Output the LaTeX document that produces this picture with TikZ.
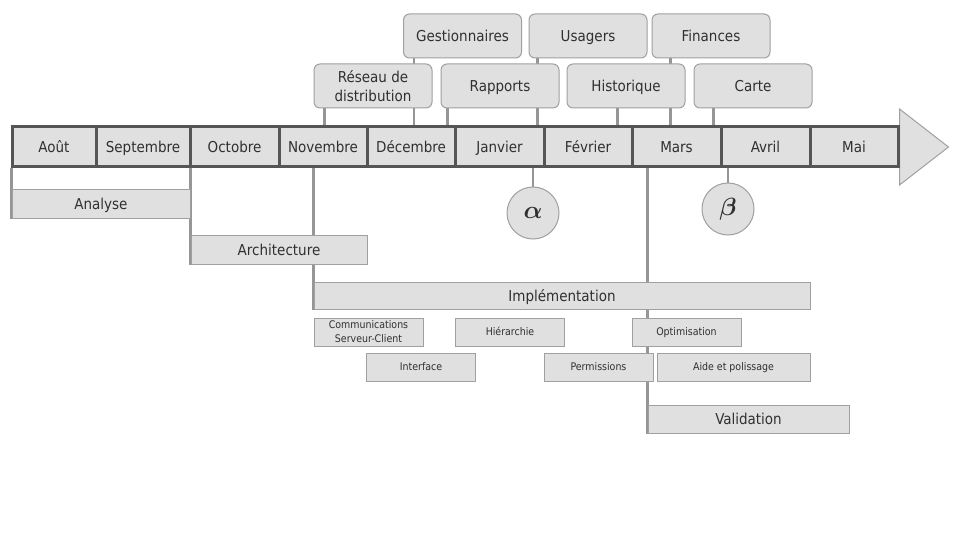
\documentclass[tikz,border=0pt]{standalone}
\usepackage{amsmath}
\usepackage{fontspec}
\setmainfont{DejaVu Sans Condensed}
\usetikzlibrary{backgrounds}

\definecolor{cellfill}{HTML}{E0E0E0}
\definecolor{edge}{HTML}{A0A0A0}
\definecolor{barline}{HTML}{555555}
\definecolor{ink}{HTML}{303030}
\definecolor{linkgray}{HTML}{969696}

\begin{document}
\begin{tikzpicture}
  [
    x = 1pt, y = -1pt,
    month/.style = {draw = barline, line width = 3pt, fill = cellfill,
        minimum height = 40pt, inner sep = 0pt, text = ink,
        text height = 11pt, text depth = 0pt,
        font = \fontsize{15}{17}\selectfont},
    feature/.style = {draw = edge, line width = 1pt, fill = cellfill,
        rounded corners = 6pt, minimum width = 118pt, minimum height = 44pt,
        inner sep = 0pt, text = ink, align = center,
        text height = 11pt, text depth = 0pt,
        font = \fontsize{15}{19}\selectfont},
    phase/.style = {draw = edge, line width = 1pt, fill = cellfill,
        inner sep = 0pt, text = ink, text height = 11pt, text depth = 0pt,
        font = \fontsize{15}{17}\selectfont},
    task/.style = {draw = edge, line width = 0.8pt, fill = cellfill,
        minimum width = 109pt, minimum height = 28pt, inner sep = 0pt,
        text = ink, align = center, text height = 7.7pt, text depth = 0pt,
        font = \fontsize{10.5}{14}\selectfont},
    milestone/.style = {circle, draw = edge, line width = 1pt, fill = cellfill,
        minimum size = 52pt, inner sep = 0pt, text = ink,
        font = \fontsize{24}{28}\selectfont},
    link/.style = {draw = linkgray, line width = 2.5pt},
  ]

  \useasboundingbox (0,0) rectangle (960,540);

  \foreach \l/\r/\name/\txt in {12/96/aout/Août, 96/190/sep/Septembre,
      190/279/oct/Octobre, 279/367/nov/Novembre, 367/455/dec/Décembre,
      455/544/jan/Janvier, 544/632/fev/Février, 632/721/mar/Mars,
      721/810/avr/Avril, 810/898/mai/Mai}{
      \node[month, minimum width = {(\r-\l)*1pt}] (\name) at ({(\l+\r)/2},147) {\txt};
    }

  \node[feature] (gest)   at (462.5,36) {Gestionnaires};
  \node[feature] (usag)   at (588,36)   {Usagers};
  \node[feature] (fin)    at (711,36)   {Finances};
  \node[feature, text height = {}, text depth = {}] (reseau) at (373,86) {Réseau de\\distribution};
  \node[feature] (rapp)   at (500,86)   {Rapports};
  \node[feature] (hist)   at (626,86)   {Historique};
  \node[feature] (carte)  at (753,86)   {Carte};

  \node[milestone] (alpha) at (533,213) {$\boldsymbol{\alpha}$};
  \node[milestone] (beta)  at (728,209) {$\boldsymbol{\beta}$};

  \node[phase, minimum width = 178pt, minimum height = 29pt] (analyse) at (101,203.5) {Analyse};
  \node[phase, minimum width = 176pt, minimum height = 29pt] (archi)   at (279,249.5) {Architecture};
  \node[phase, minimum width = 496pt, minimum height = 27pt] (impl)    at (562,295.5) {Implémentation};
  \node[phase, minimum width = 201pt, minimum height = 28pt] (valid)   at (748.5,419) {Validation};

  \node[task, text height = {}, text depth = {}] (comm) at (368.5,332) {Communications\\Serveur-Client};
  \node[task] (hier)  at (510,332)   {Hiérarchie};
  \node[task] (optim) at (686.5,332) {Optimisation};
  \node[task] (inter) at (421,367)   {Interface};
  \node[task] (perm)  at (598.5,367) {Permissions};
  \node[task, minimum width = 153pt] (aide) at (733.5,367) {Aide et polissage};

  \begin{scope}[on background layer]
    \draw[draw = edge, line width = 1pt, fill = cellfill]
      (mai.east) ++(0,-38) -- ++(49,38) -- ++(-49,38) -- cycle;

    \foreach \feat/\dx/\cell in {gest/11/dec, usag/9/jan, fin/19/mar,
        reseau/11/nov, rapp/7/dec, hist/51/fev, carte/20/mar}{
        \draw[link] (\feat.south west) ++(\dx,0) coordinate (tick) -- (tick |- \cell.north);
      }

    \foreach \ph/\cell in {analyse/aout, archi/oct, impl/nov, valid/mar}{
        \draw[link] (\ph.south west) -- (\ph.south west |- \cell.south);
      }

    \foreach \ms/\cell in {alpha/jan, beta/avr}{
        \draw[link] (\ms) -- (\ms |- \cell.south);
      }
  \end{scope}

\end{tikzpicture}
\end{document}
